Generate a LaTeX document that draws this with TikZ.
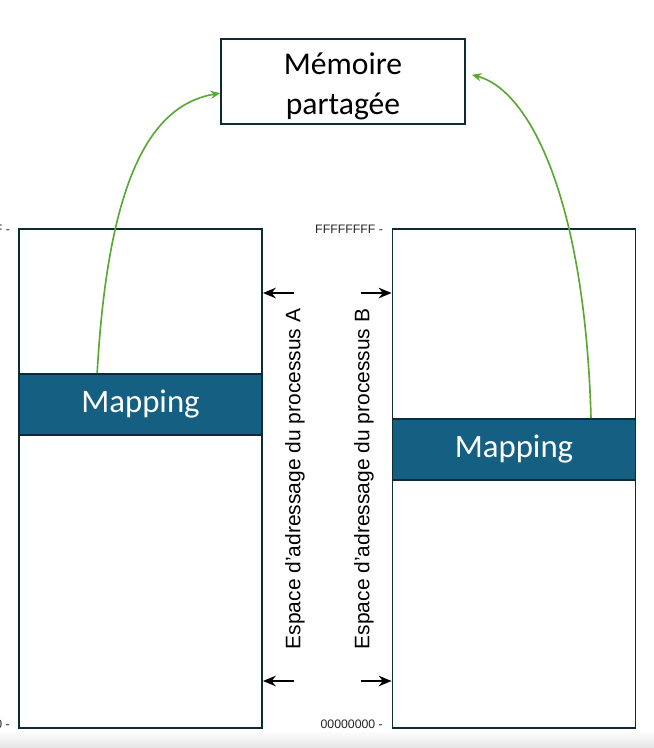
\documentclass[tikz,border=0pt]{standalone}
\usepackage{fontspec}
\setmainfont{Carlito}
\newfontfamily\arialfont{Liberation Sans}
\usetikzlibrary{arrows.meta}

\definecolor{cadre}{HTML}{0E2A35}
\definecolor{bleumap}{HTML}{155F82}
\definecolor{vertfleche}{HTML}{5AA832}

\tikzset{
  espace/.style={draw=cadre, line width=1.6pt, minimum width=7.29cm, minimum height=14.97cm, inner sep=0pt},
  mapbox/.style={draw=cadre, fill=bleumap, line width=1.6pt, minimum width=7.29cm, minimum height=1.83cm, inner sep=0pt, text=white, font=\fontsize{28}{32}\selectfont},
  adresse/.style={anchor=east, font=\arialfont\fontsize{10.5}{12}\selectfont, text=black!85},
  fleche/.style={-{Stealth[length=11pt,width=9pt]}, line width=1.6pt},
  lien/.style={-{Stealth[length=8pt,width=7pt]}, vertfleche, line width=1.4pt},
  etiquette/.style={rotate=90, font=\arialfont\fontsize{17.9}{20}\selectfont}
}

\begin{document}
\begin{tikzpicture}[x=0.03cm,y=-0.03cm]

% cadre de la page
\clip (0,0) rectangle (654,748);
\fill[white] (0,0) rectangle (654,748);
\shade[top color=white, bottom color=black!10] (0,730) rectangle (654,748);

% mémoire partagée
\node[draw=cadre, line width=1.6pt, minimum width=7.32cm, minimum height=2.49cm, align=center,
      font=\fontsize{27}{34}\selectfont] (memoire) at (343,81.5) {\rule{0pt}{0.95cm}Mémoire\\partagée};

% espaces d'adressage
\node[espace] (espA) at (140.5,478.5) {};
\node[espace] (espB) at (514,478.5) {};

% zones de mapping
\node[mapbox] (mapA) at (140.5,404.5) {Mapping};
\node[mapbox] (mapB) at (514,449.5) {Mapping};

% adresses
\node[adresse] (hautA) at (14,229) {FFFFFFFF -};
\node[adresse] (basA) at (14,724) {00000000 -};
\node[adresse] (hautB) at (387,229) {FFFFFFFF -};
\node[adresse] (basB) at (387,724) {00000000 -};

% flèches et titres des espaces
\coordinate (dA1) at (294,293);
\coordinate (dA2) at (294,681);
\coordinate (dB1) at (361,293);
\coordinate (dB2) at (361,681);
\draw[fleche] (dA1) -- (espA.east |- dA1);
\draw[fleche] (dA2) -- (espA.east |- dA2);
\draw[fleche] (dB1) -- (espB.west |- dB1);
\draw[fleche] (dB2) -- (espB.west |- dB2);
\node[etiquette] (titreA) at (295,479) {Espace d’adressage du processus A};
\node[etiquette] (titreB) at (364,479) {Espace d’adressage du processus B};

% liens vers la mémoire partagée
\draw[lien] ([xshift=-1.3cm]mapA.north) .. controls (108,180) and (150,105) .. ([yshift=-0.35cm]memoire.west);
\draw[lien] ([xshift=2.31cm]mapB.north) .. controls (585,200) and (530,90) .. ([xshift=0.18cm,yshift=0.2cm]memoire.east);

\end{tikzpicture}
\end{document}
